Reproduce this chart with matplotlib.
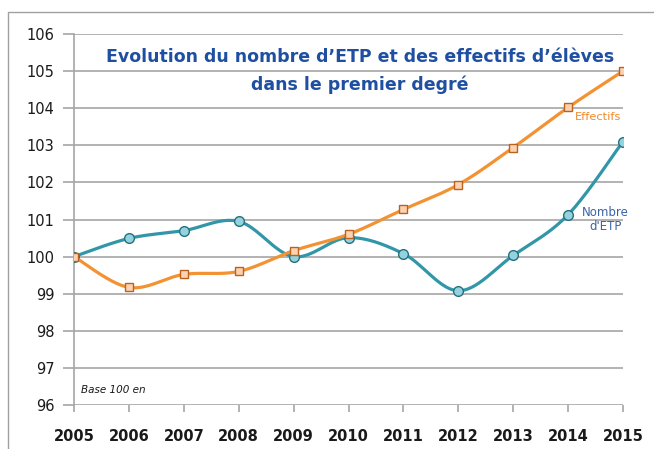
import matplotlib
matplotlib.use("Agg")
import matplotlib.pyplot as plt
import numpy as np
from matplotlib.patches import Rectangle

years = [2005, 2006, 2007, 2008, 2009, 2010, 2011, 2012, 2013, 2014, 2015]
etp = [100.0, 100.49, 100.7, 100.95, 100.0, 100.51, 100.08, 99.08, 100.03, 101.13, 103.1]
effectifs = [100.0, 99.17, 99.52, 99.6, 100.16, 100.6, 101.27, 101.94, 102.94, 104.02, 105.0]
yticks = [96, 97, 98, 99, 100, 101, 102, 103, 104, 105, 106]


def smooth(x, y, n=30):
    # Catmull-Rom smoothing (Excel-style smoothed line)
    x = np.asarray(x, float); y = np.asarray(y, float)
    px = np.concatenate([[x[0]], x, [x[-1]]])
    py = np.concatenate([[y[0]], y, [y[-1]]])
    xs, ys = [], []
    for i in range(1, len(px) - 2):
        p0 = np.array([px[i - 1], py[i - 1]]); p1 = np.array([px[i], py[i]])
        p2 = np.array([px[i + 1], py[i + 1]]); p3 = np.array([px[i + 2], py[i + 2]])
        c1 = p1 + (p2 - p0) / 6.0
        c2 = p2 - (p3 - p1) / 6.0
        t = np.linspace(0, 1, n)[:, None]
        b = ((1 - t) ** 3) * p1 + 3 * ((1 - t) ** 2) * t * c1 + 3 * (1 - t) * t ** 2 * c2 + t ** 3 * p2
        xs.extend(b[:, 0]); ys.extend(b[:, 1])
    return np.array(xs), np.array(ys)


fig = plt.figure(figsize=(6.54, 4.49), dpi=100)
ax = fig.add_axes([74 / 654, 1 - 405 / 449, (623 - 74) / 654, (405 - 34) / 449])

# outer frame
fig.patches.append(Rectangle((8 / 654, -0.05), 1.0, 1 - 12 / 449 + 0.05, transform=fig.transFigure,
                             fill=False, edgecolor="#a0a0a0", linewidth=1.0))

grid_c = "#a6a6a6"
for v in yticks:
    ax.axhline(v, color=grid_c, linewidth=1.2, zorder=0)

teal = "#3197a8"
orange = "#f39232"
sx, sy = smooth(years, etp)
ax.plot(sx, sy, color=teal, linewidth=2.3, zorder=2, solid_capstyle="round")
ax.plot(years, etp, linestyle="none", marker="o", markersize=7, markerfacecolor="#92d3df",
        markeredgecolor="#2a6f7c", markeredgewidth=1.0, zorder=3)
sx, sy = smooth(years, effectifs)
ax.plot(sx, sy, color=orange, linewidth=2.3, zorder=4, solid_capstyle="round")
ax.plot(years, effectifs, linestyle="none", marker="s", markersize=6.3, markerfacecolor="#fdd2b0",
        markeredgecolor="#b8621f", markeredgewidth=1.0, zorder=5)

ax.set_xlim(2005, 2015)
ax.set_ylim(96, 106)
ax.set_yticks(yticks)
ax.set_xticks(years)
ax.set_yticklabels([str(v) for v in yticks], fontsize=10.5, color="#1a1a1a")
ax.set_xticklabels([str(y) for y in years], fontsize=10.5, fontweight="bold", color="#1a1a1a")
ax.tick_params(axis="y", length=8, color=grid_c, width=1.2, pad=6)
ax.tick_params(axis="x", length=5, color=grid_c, width=1.2, pad=12)
for s in ["top", "right", "bottom"]:
    ax.spines[s].set_visible(False)
ax.spines["left"].set_color(grid_c)
ax.spines["left"].set_linewidth(1.2)
ax.set_facecolor("none")

ax.text(0.521, 0.962, "Evolution du nombre d\u2019ETP et des effectifs d\u2019\u00e9l\u00e8ves\ndans le premier degr\u00e9",
        transform=ax.transAxes, ha="center", va="top", fontsize=12.5, fontweight="bold",
        color="#1e4fa0", linespacing=1.65)

ax.text(2014.55, 103.76, "Effectifs", color="#f08a2c", fontsize=8.2, ha="center", va="center")
ax.text(2014.68, 101.0, "Nombre\nd'ETP", color="#3a62a8", fontsize=8.5, ha="center", va="center",
        linespacing=1.15)
ax.text(2005.12, 96.4, "Base 100 en", fontsize=7.5, style="italic", color="#1a1a1a", ha="left", va="center")

fig.savefig("out.png", dpi=100)
